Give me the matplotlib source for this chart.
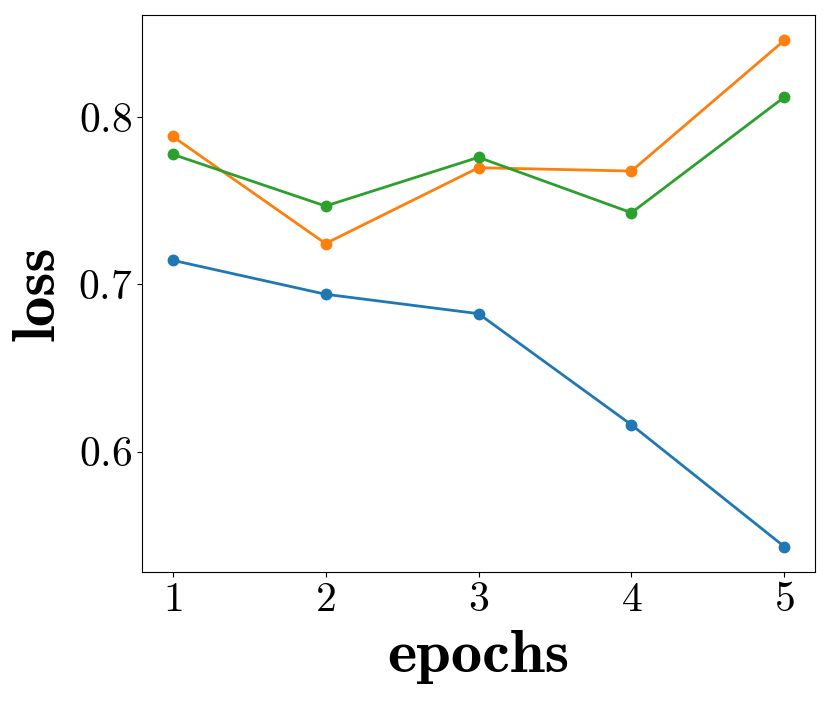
import matplotlib
matplotlib.use("Agg")
import matplotlib.pyplot as plt

epochs = [1, 2, 3, 4, 5]
loss_blue = [0.7143, 0.6940, 0.6824, 0.6160, 0.5432]
loss_orange = [0.7883, 0.7243, 0.7696, 0.7676, 0.8457]
loss_green = [0.7776, 0.7467, 0.7758, 0.7427, 0.8118]

plt.rcParams["font.family"] = "cmr10"
plt.rcParams["mathtext.fontset"] = "cm"
plt.rcParams["axes.formatter.use_mathtext"] = True

fig = plt.figure(figsize=(8.3, 7.01), dpi=100)
ax = fig.add_axes([142 / 830, 1 - 572 / 701, (815 - 142) / 830, (572 - 15) / 701])

for y, c in [(loss_blue, "#1f77b4"), (loss_orange, "#ff7f0e"), (loss_green, "#2ca02c")]:
    ax.plot(epochs, y, marker="o", color=c, linewidth=2, markersize=7.5)

ax.set_xticks(epochs)
ax.set_yticks([0.6, 0.7, 0.8])
ax.tick_params(labelsize=30)
ax.set_xlabel("epochs", fontsize=45, family="cmb10", labelpad=8)
ax.set_ylabel("loss", fontsize=44, family="cmb10", labelpad=9)

plt.savefig("out.png", dpi=100)
plt.close()
